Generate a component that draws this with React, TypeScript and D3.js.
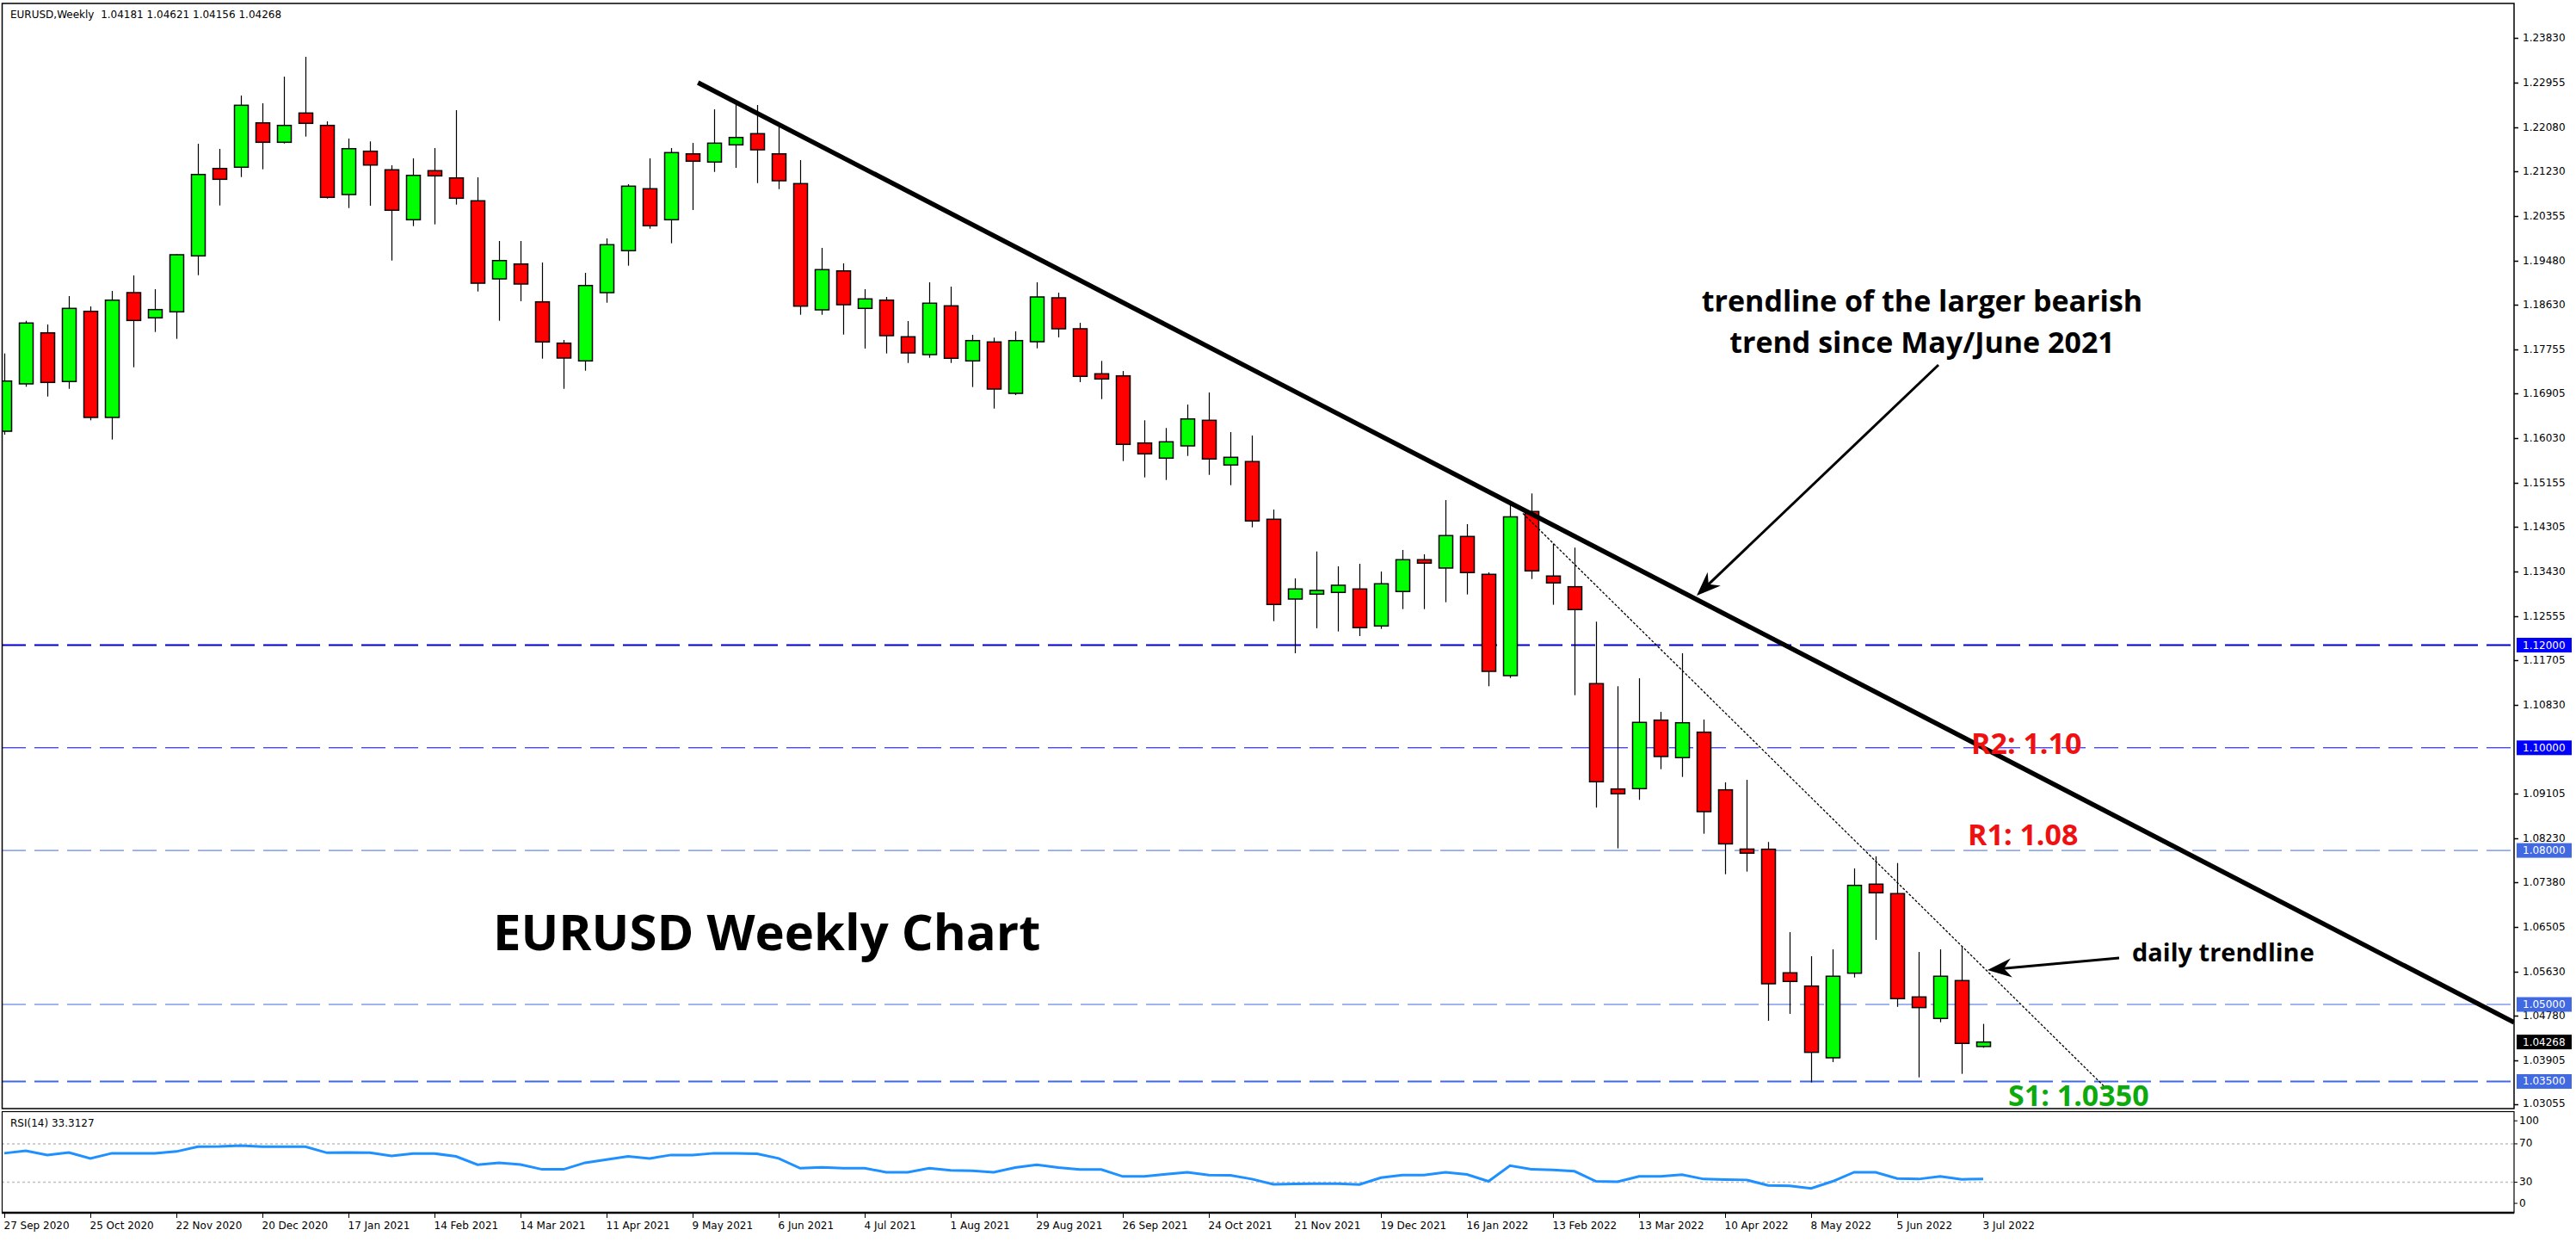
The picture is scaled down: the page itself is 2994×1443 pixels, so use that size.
import React from 'react';
import * as d3 from 'd3';

const W = 2994;
const H = 1443;

// Weekly EURUSD OHLC, bar 0 = week of 27 Sep 2020, bar 92 = week of 3 Jul 2022
const openP = [
  1.16167, 1.17090, 1.18084, 1.17135, 1.18503, 1.16436, 1.18867, 1.18376, 1.18493, 1.19583,
  1.21286, 1.21310, 1.22175, 1.21796, 1.22366, 1.22125, 1.20778, 1.21622, 1.21260, 1.20287,
  1.21243, 1.21102, 1.20656, 1.19135, 1.19425, 1.18688, 1.17883, 1.17537, 1.18867, 1.19684,
  1.20891, 1.20287, 1.21571, 1.21411, 1.21746, 1.21964, 1.21571, 1.20991, 1.18532, 1.19291,
  1.18560, 1.18721, 1.18007, 1.17660, 1.18610, 1.17537, 1.17906, 1.16905, 1.17911, 1.18766,
  1.18163, 1.17286, 1.17246, 1.15938, 1.15643, 1.15882, 1.16380, 1.15509, 1.15576, 1.14452,
  1.12898, 1.12993, 1.13027, 1.13094, 1.12373, 1.13044, 1.13664, 1.13502, 1.14117, 1.13379,
  1.11406, 1.14603, 1.13346, 1.13138, 1.11250, 1.09198, 1.09204, 1.10539, 1.09808, 1.10304,
  1.09181, 1.08027, 1.08024, 1.05616, 1.05358, 1.03961, 1.05609, 1.07343, 1.07159, 1.05146,
  1.04727, 1.05465, 1.04181,
];
const highP = [
  1.17682, 1.18319, 1.18247, 1.18800, 1.18599, 1.18901, 1.19202, 1.18934, 1.19615, 1.21768,
  1.21667, 1.22707, 1.22556, 1.23075, 1.23461, 1.22204, 1.21868, 1.21813, 1.21348, 1.21483,
  1.21684, 1.22422, 1.21114, 1.19873, 1.19873, 1.19454, 1.17945, 1.19253, 1.19923, 1.20980,
  1.21483, 1.21684, 1.21784, 1.22438, 1.22556, 1.22522, 1.22137, 1.21449, 1.19739, 1.19437,
  1.18934, 1.18783, 1.18314, 1.19068, 1.18984, 1.18045, 1.17990, 1.18112, 1.19068, 1.18867,
  1.18280, 1.17537, 1.17340, 1.16380, 1.16230, 1.16687, 1.16922, 1.16151, 1.16084, 1.14642,
  1.13300, 1.13825, 1.13535, 1.13585, 1.13434, 1.13854, 1.13770, 1.14826, 1.14357, 1.13418,
  1.14731, 1.14955, 1.13976, 1.13899, 1.12457, 1.11199, 1.11355, 1.10701, 1.11842, 1.10551,
  1.09327, 1.09377, 1.08165, 1.06409, 1.05940, 1.06074, 1.07650, 1.07885, 1.07755, 1.06023,
  1.06074, 1.06135, 1.04621,
];
const lowP = [
  1.16100, 1.17034, 1.16843, 1.16994, 1.16380, 1.16005, 1.17413, 1.18101, 1.17967, 1.19207,
  1.20565, 1.21119, 1.21270, 1.21773, 1.21907, 1.20700, 1.20515, 1.20560, 1.19492, 1.20163,
  1.20197, 1.20582, 1.18889, 1.18319, 1.18699, 1.17581, 1.16994, 1.17346, 1.18671, 1.19392,
  1.20113, 1.19828, 1.20477, 1.21219, 1.21298, 1.21001, 1.20884, 1.18436, 1.18436, 1.18050,
  1.17777, 1.17682, 1.17497, 1.17598, 1.17497, 1.17028, 1.16608, 1.16872, 1.17782, 1.17995,
  1.17123, 1.16793, 1.15586, 1.15267, 1.15217, 1.15686, 1.15317, 1.15116, 1.14295, 1.12467,
  1.11842, 1.12328, 1.12266, 1.12177, 1.12316, 1.12702, 1.12702, 1.12836, 1.12987, 1.11199,
  1.11360, 1.13288, 1.12786, 1.11025, 1.08835, 1.08041, 1.08986, 1.09583, 1.09432, 1.08326,
  1.07537, 1.07588, 1.04682, 1.04816, 1.03480, 1.03877, 1.05525, 1.06258, 1.04953, 1.03580,
  1.04653, 1.03648, 1.04156,
];
const closeP = [
  1.17145, 1.18275, 1.17118, 1.18560, 1.16436, 1.18721, 1.18325, 1.18537, 1.19605, 1.21169,
  1.21075, 1.22517, 1.21796, 1.22125, 1.22165, 1.20723, 1.21672, 1.21353, 1.20472, 1.21152,
  1.21142, 1.20706, 1.19051, 1.19492, 1.19035, 1.17906, 1.17593, 1.19006, 1.19801, 1.20941,
  1.20170, 1.21595, 1.21427, 1.21779, 1.21890, 1.21650, 1.21047, 1.18604, 1.19315, 1.18632,
  1.18745, 1.18029, 1.17693, 1.18661, 1.17588, 1.17933, 1.16989, 1.17933, 1.18783, 1.18163,
  1.17236, 1.17185, 1.15911, 1.15726, 1.15961, 1.16407, 1.15626, 1.15659, 1.14419, 1.12792,
  1.13094, 1.13066, 1.13166, 1.12340, 1.13195, 1.13664, 1.13597, 1.14134, 1.13413, 1.11489,
  1.14499, 1.13446, 1.13212, 1.12692, 1.09338, 1.09104, 1.10495, 1.09830, 1.10488, 1.08756,
  1.08128, 1.07947, 1.05403, 1.05448, 1.04067, 1.05549, 1.07320, 1.07175, 1.05113, 1.04939,
  1.05549, 1.04241, 1.04268,
];

const rsiValues = [
  60.2, 62.8, 58.4, 61.0, 54.8, 60.2, 60.2, 60.2, 62.0, 67.0,
  67.3, 68.2, 67.0, 67.0, 67.0, 60.7, 61.0, 60.7, 57.5, 59.9,
  59.9, 56.9, 48.2, 50.3, 48.5, 43.4, 43.4, 50.3, 53.6, 56.9,
  54.8, 58.4, 58.4, 60.2, 60.2, 59.6, 54.8, 44.6, 45.5, 44.6,
  44.6, 40.4, 40.4, 44.6, 42.3, 42.0, 40.4, 45.2, 48.2, 45.2,
  43.2, 43.2, 36.0, 36.0, 38.4, 40.4, 37.5, 37.2, 33.3, 27.9,
  28.2, 28.5, 28.5, 27.6, 34.8, 37.5, 37.5, 40.4, 38.1, 30.9,
  47.3, 43.4, 42.9, 41.4, 30.9, 30.6, 36.0, 36.0, 37.8, 33.3,
  32.7, 32.4, 26.7, 26.2, 23.5, 30.9, 40.4, 40.4, 33.9, 33.3,
  36.0, 33.0, 33.3,
];

const dateTickLabels = [
  '27 Sep 2020', '25 Oct 2020', '22 Nov 2020', '20 Dec 2020', '17 Jan 2021', '14 Feb 2021',
  '14 Mar 2021', '11 Apr 2021', '9 May 2021', '6 Jun 2021', '4 Jul 2021', '1 Aug 2021',
  '29 Aug 2021', '26 Sep 2021', '24 Oct 2021', '21 Nov 2021', '19 Dec 2021', '16 Jan 2022',
  '13 Feb 2022', '13 Mar 2022', '10 Apr 2022', '8 May 2022', '5 Jun 2022', '3 Jul 2022',
];
const dateTickStep = 4;

const priceTicks = [
  1.23830, 1.22955, 1.22080, 1.21230, 1.20355, 1.19480, 1.18630, 1.17755, 1.16905, 1.16030,
  1.15155, 1.14305, 1.13430, 1.12555, 1.11705, 1.10830, 1.09105, 1.08230, 1.07380, 1.06505,
  1.05630, 1.04780, 1.03905, 1.03055,
];
const rsiTicks = [
  { label: '100', v: 94 },
  { label: '70', v: 70 },
  { label: '30', v: 30 },
  { label: '0', v: 8 },
];
const rsiLevels = [70, 30];

// horizontal support / resistance levels
const levelPrices = [1.12, 1.10, 1.08, 1.05, 1.035];
const levelColors = ['#0000FF', '#0000FF', '#4169E1', '#4169E1', '#4169E1'];
const levelLineColors = ['#0000CC', '#0000DD', '#4169E1', '#4169E1', '#4169E1'];
const levelWidths = [2, 1, 1, 1, 2];

const lastPrice = 1.04268;

// trendlines in (bar index, price)
const bigTrend = [
  { bar: 32.25, price: 1.22958 },
  { bar: 116.68, price: 1.04649 },
];
const dailyTrend = [
  { bar: 70.6, price: 1.14566 },
  { bar: 97.68, price: 1.03379 },
];
const arrows = [
  { from: { bar: 89.92, price: 1.17459 }, to: { bar: 78.68, price: 1.12965 } },
  { from: { bar: 98.32, price: 1.05906 }, to: { bar: 92.2, price: 1.05671 } },
];

const AXIS_FONT = "'DejaVu Sans', sans-serif";
const ANN_FONT = "'Open Sans', 'Noto Sans', sans-serif";

export default function App() {
  const plotL = 2;
  const plotR = 2922;
  const plotT = 4;
  const plotB = 1288;
  const rsiT = 1291.5;
  const rsiB = 1409;

  const x = d3.scaleLinear().domain([0, 92]).range([5, 2305]);
  const y = d3.scaleLinear().domain([1.02971, 1.24501]).range([plotB, plotT]);
  const yR = d3.scaleLinear().domain([0, 100]).range([1407, 1295.5]);

  const bodyW = 16;

  const rsiLine = d3
    .line<number>()
    .x((_, i) => x(i))
    .y((d) => yR(d));

  const arrowHead = (tx: number, ty: number, px: number, py: number) => {
    const dx = px - tx;
    const dy = py - ty;
    const len = Math.hypot(dx, dy);
    const ux = dx / len;
    const uy = dy / len;
    const nx = -uy;
    const ny = ux;
    const L = 28;
    const Wd = 11;
    const p1 = [px, py];
    const p2 = [px - ux * L + nx * Wd, py - uy * L + ny * Wd];
    const p3 = [px - ux * L * 0.68, py - uy * L * 0.68];
    const p4 = [px - ux * L - nx * Wd, py - uy * L - ny * Wd];
    return `M${p1}L${p2}L${p3}L${p4}Z`;
  };

  return (
    <svg width={W} height={H} style={{ display: 'block', position: 'absolute', left: 0, top: 0, background: '#fff' }}>
      <defs>
        <clipPath id="plotClip">
          <rect x={plotL} y={plotT} width={plotR - plotL} height={plotB - plotT} />
        </clipPath>
        <clipPath id="rsiClip">
          <rect x={plotL} y={rsiT} width={plotR - plotL} height={rsiB - rsiT} />
        </clipPath>
      </defs>
      <rect x={0} y={0} width={W} height={H} fill="#ffffff" />

      {/* main chart */}
      <g clipPath="url(#plotClip)">
        {levelPrices.map((p, i) => (
          <line
            key={'lv' + i}
            x1={plotL}
            x2={plotR}
            y1={y(p)}
            y2={y(p)}
            stroke={levelLineColors[i]}
            strokeWidth={levelWidths[i]}
            strokeDasharray="28,10"
          />
        ))}

        {openP.map((o, i) => {
          const c = closeP[i];
          const cx = Math.round(x(i)) + 0.5;
          const top = y(Math.max(o, c));
          const bot = y(Math.min(o, c));
          const up = c >= o;
          return (
            <g key={'c' + i}>
              <line x1={cx} x2={cx} y1={y(highP[i])} y2={y(lowP[i])} stroke="#000" strokeWidth={1.2} />
              <rect
                x={cx - bodyW / 2}
                y={top}
                width={bodyW}
                height={Math.max(bot - top, 2)}
                fill={up ? '#00FF00' : '#FF0000'}
                stroke="#000"
                strokeWidth={1.5}
              />
            </g>
          );
        })}

        <line
          x1={x(dailyTrend[0].bar)}
          y1={y(dailyTrend[0].price)}
          x2={x(dailyTrend[1].bar)}
          y2={y(dailyTrend[1].price)}
          stroke="#000"
          strokeWidth={1.3}
          strokeDasharray="3,2"
        />
        <line
          x1={x(bigTrend[0].bar)}
          y1={y(bigTrend[0].price)}
          x2={x(bigTrend[1].bar)}
          y2={y(bigTrend[1].price)}
          stroke="#000"
          strokeWidth={5.5}
        />

        {arrows.map((a, i) => {
          const tx = x(a.from.bar);
          const ty = y(a.from.price);
          const px = x(a.to.bar);
          const py = y(a.to.price);
          const len = Math.hypot(px - tx, py - ty);
          const ex = px - ((px - tx) / len) * 18;
          const ey = py - ((py - ty) / len) * 18;
          return (
            <g key={'ar' + i}>
              <line x1={tx} y1={ty} x2={ex} y2={ey} stroke="#000" strokeWidth={3} />
              <path d={arrowHead(tx, ty, px, py)} fill="#000" />
            </g>
          );
        })}

        <text x={2234} y={362} textAnchor="middle" fontFamily={ANN_FONT} fontWeight={700} fontSize={34} fill="#000">
          trendline of the larger bearish
        </text>
        <text x={2234} y={410} textAnchor="middle" fontFamily={ANN_FONT} fontWeight={700} fontSize={34} fill="#000">
          trend since May/June 2021
        </text>
        <text x={573} y={1104} fontFamily={ANN_FONT} fontWeight={700} fontSize={58} fill="#000">
          EURUSD Weekly Chart
        </text>
        <text x={2291} y={876} fontFamily={ANN_FONT} fontWeight={700} fontSize={34} fill="#EE1111">
          R2: 1.10
        </text>
        <text x={2287} y={982} fontFamily={ANN_FONT} fontWeight={700} fontSize={34} fill="#EE1111">
          R1: 1.08
        </text>
        <text x={2334} y={1285} fontFamily={ANN_FONT} fontWeight={700} fontSize={34} fill="#0DAA0D">
          S1: 1.0350
        </text>
        <text x={2478} y={1117} fontFamily={ANN_FONT} fontWeight={700} fontSize={29} fill="#000">
          daily trendline
        </text>
      </g>

      {/* header */}
      <text x={12} y={21} fontFamily={AXIS_FONT} fontSize={12} fill="#000">
        EURUSD,Weekly{'\u00a0\u00a0'}1.04181 1.04621 1.04156 1.04268
      </text>

      {/* main frame */}
      <rect x={plotL + 0.5} y={plotT} width={plotR - plotL - 0.5} height={plotB - plotT} fill="none" stroke="#000" strokeWidth={1.5} />

      {/* price axis */}
      {priceTicks.map((p, i) => (
        <g key={'pt' + i}>
          <line x1={plotR} x2={plotR + 5} y1={Math.round(y(p)) + 0.5} y2={Math.round(y(p)) + 0.5} stroke="#000" strokeWidth={1.5} />
          <text x={2932} y={y(p)} dominantBaseline="middle" fontFamily={AXIS_FONT} fontSize={12} fill="#000">
            {p.toFixed(5)}
          </text>
        </g>
      ))}
      {levelPrices.map((p, i) => (
        <g key={'lb' + i}>
          <rect x={2925} y={y(p) - 8.5} width={64} height={17} fill={levelColors[i]} />
          <text x={2932} y={y(p) + 0.5} dominantBaseline="middle" fontFamily={AXIS_FONT} fontSize={12} fill="#fff">
            {p.toFixed(5)}
          </text>
        </g>
      ))}
      <rect x={2925} y={y(lastPrice) - 8.5} width={64} height={17} fill="#000" />
      <text x={2932} y={y(lastPrice) + 0.5} dominantBaseline="middle" fontFamily={AXIS_FONT} fontSize={12} fill="#fff">
        {lastPrice.toFixed(5)}
      </text>

      {/* RSI panel */}
      <g clipPath="url(#rsiClip)">
        {rsiLevels.map((v) => (
          <line key={'rl' + v} x1={plotL} x2={plotR} y1={yR(v)} y2={yR(v)} stroke="#C0C0C0" strokeWidth={1.5} strokeDasharray="3,3" />
        ))}
        <path d={rsiLine(rsiValues) || ''} fill="none" stroke="#1E90FF" strokeWidth={3} />
      </g>
      <text x={12} y={1305} dominantBaseline="middle" fontFamily={AXIS_FONT} fontSize={12} fill="#000">
        RSI(14) 33.3127
      </text>
      <rect x={plotL + 0.5} y={rsiT} width={plotR - plotL - 0.5} height={rsiB - rsiT} fill="none" stroke="#000" strokeWidth={1.2} />
      <line x1={plotL} x2={plotR} y1={rsiB} y2={rsiB} stroke="#000" strokeWidth={2.5} />
      {rsiTicks.map((t) => (
        <g key={'rt' + t.label}>
          <line x1={plotR} x2={plotR + 4} y1={yR(t.v)} y2={yR(t.v)} stroke="#000" strokeWidth={1} />
          <text x={2928} y={yR(t.v)} dominantBaseline="middle" fontFamily={AXIS_FONT} fontSize={12} fill="#000">
            {t.label}
          </text>
        </g>
      ))}

      {/* time axis */}
      {dateTickLabels.map((lab, i) => {
        const tx = Math.round(x(i * dateTickStep)) + 0.5;
        return (
          <g key={'dt' + i}>
            <line x1={tx} x2={tx} y1={rsiB} y2={rsiB + 6} stroke="#000" strokeWidth={1} />
            <text x={tx - 1} y={1428} fontFamily={AXIS_FONT} fontSize={12} fill="#000">
              {lab}
            </text>
          </g>
        );
      })}
    </svg>
  );
}
